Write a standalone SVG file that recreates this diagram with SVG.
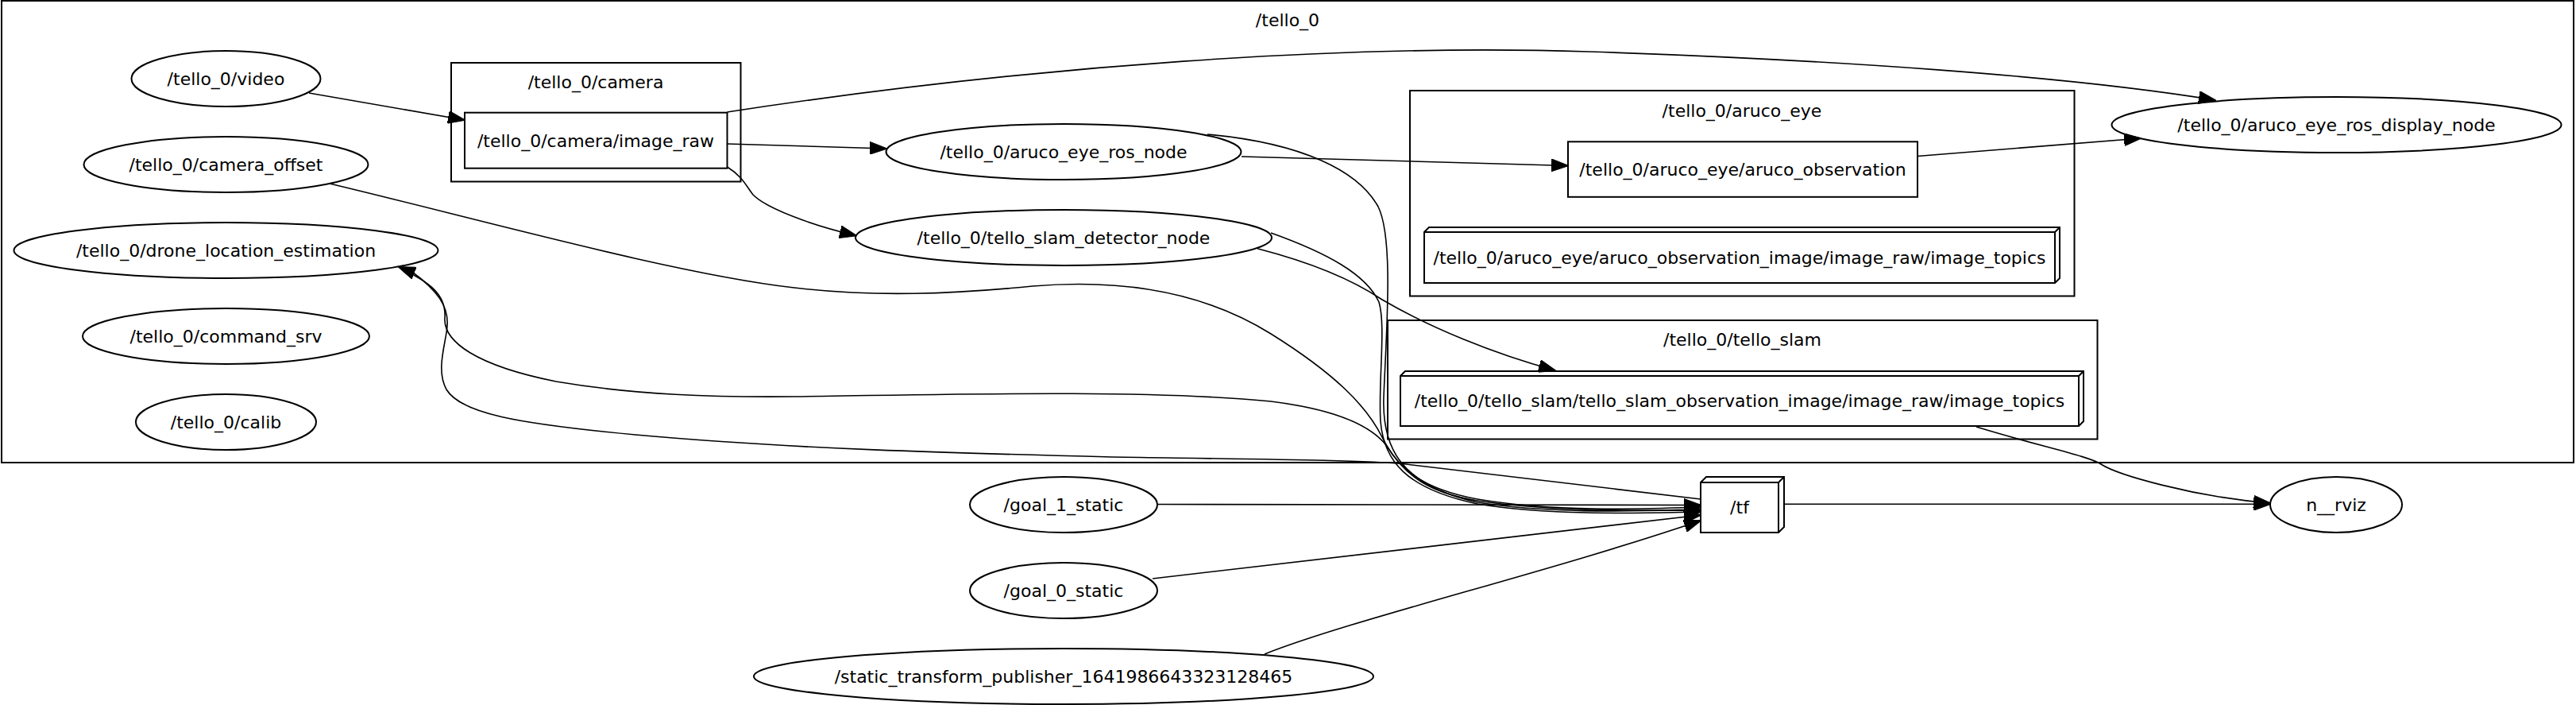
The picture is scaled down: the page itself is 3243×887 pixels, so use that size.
<svg xmlns="http://www.w3.org/2000/svg" width="3243" height="887" viewBox="0 0 3243 887">
<style>
text{font-family:"DejaVu Sans","Liberation Sans",sans-serif;font-size:22px;text-anchor:middle;fill:#000}
.cl{fill:none;stroke:#000;stroke-width:2}
.nd{fill:none;stroke:#000;stroke-width:2}
.e{fill:none;stroke:#000;stroke-width:1.6;marker-end:url(#ah)}
.t{fill:none;stroke:#000;stroke-width:1.6}
</style>
<defs>
<marker id="ah" markerUnits="userSpaceOnUse" viewBox="0 0 22 16" markerWidth="22" markerHeight="16" refX="21" refY="8" orient="auto">
<path d="M0,0 L22,8 L0,16 z" fill="#000" stroke="#000" stroke-width="1"/>
</marker>
</defs>
<rect width="3243" height="887" fill="#fff"/>
<g id="clusters">
<g id="cluster_tello_0"><rect class="cl" x="2" y="1" width="3238" height="581"/><text x="1621" y="33">/tello_0</text></g>
<g id="cluster_camera"><rect class="cl" x="568" y="79" width="364.5" height="149.5"/><text x="750" y="111">/tello_0/camera</text></g>
<g id="cluster_aruco_eye"><rect class="cl" x="1775" y="114" width="836.5" height="258.5"/><text x="2193" y="147">/tello_0/aruco_eye</text></g>
<g id="cluster_tello_slam"><rect class="cl" x="1747" y="403" width="893.5" height="149.5"/><text x="2193.5" y="435">/tello_0/tello_slam</text></g>
</g>
<g id="n_video"><ellipse class="nd" cx="284.5" cy="99" rx="119" ry="35"/><text x="284.5" y="107">/tello_0/video</text></g>
<g id="n_camera_offset"><ellipse class="nd" cx="284.5" cy="207" rx="179" ry="35"/><text x="284.5" y="215">/tello_0/camera_offset</text></g>
<g id="n_drone_location_estimation"><ellipse class="nd" cx="284.5" cy="315" rx="267" ry="35"/><text x="284.5" y="323">/tello_0/drone_location_estimation</text></g>
<g id="n_command_srv"><ellipse class="nd" cx="284.5" cy="423" rx="180.5" ry="35"/><text x="284.5" y="431">/tello_0/command_srv</text></g>
<g id="n_calib"><ellipse class="nd" cx="284.5" cy="531" rx="113.5" ry="35"/><text x="284.5" y="539">/tello_0/calib</text></g>
<g id="n_image_raw"><rect class="nd" x="585" y="141.7" width="330.5" height="70"/><text x="750" y="185">/tello_0/camera/image_raw</text></g>
<g id="n_aruco_eye_ros_node"><ellipse class="nd" cx="1339" cy="191" rx="223.5" ry="35"/><text x="1339" y="199">/tello_0/aruco_eye_ros_node</text></g>
<g id="n_tello_slam_detector_node"><ellipse class="nd" cx="1339" cy="299" rx="262" ry="35"/><text x="1339" y="307">/tello_0/tello_slam_detector_node</text></g>
<g id="n_aruco_observation"><rect class="nd" x="1974" y="178.3" width="440" height="69.5"/><text x="2194" y="221">/tello_0/aruco_eye/aruco_observation</text></g>
<g id="n_aruco_observation_image"><path class="nd" d="M1793,292 L1799,286 L2593,286 L2593,350 L2587,356 L1793,356 Z M1793,292 L2587,292 L2587,356 M2587,292 L2593,286"/><text x="2190" y="332">/tello_0/aruco_eye/aruco_observation_image/image_raw/image_topics</text></g>
<g id="n_tello_slam_observation_image"><path class="nd" d="M1763,473 L1769,467 L2623,467 L2623,530 L2617,536 L1763,536 Z M1763,473 L2617,473 L2617,536 M2617,473 L2623,467"/><text x="2190" y="512">/tello_0/tello_slam/tello_slam_observation_image/image_raw/image_topics</text></g>
<g id="n_aruco_eye_ros_display_node"><ellipse class="nd" cx="2941.5" cy="157" rx="283" ry="35"/><text x="2941.5" y="165">/tello_0/aruco_eye_ros_display_node</text></g>
<g id="n_goal_1_static"><ellipse class="nd" cx="1339" cy="635" rx="118" ry="35"/><text x="1339" y="643">/goal_1_static</text></g>
<g id="n_goal_0_static"><ellipse class="nd" cx="1339" cy="743" rx="118" ry="35"/><text x="1339" y="751">/goal_0_static</text></g>
<g id="n_static_transform_publisher"><ellipse class="nd" cx="1339" cy="851" rx="390" ry="35"/><text x="1339" y="859">/static_transform_publisher_1641986643323128465</text></g>
<g id="n_tf"><path class="nd" d="M2141,607 L2148,600 L2246,600 L2246,663 L2239,670 L2141,670 Z M2141,607 L2239,607 L2239,670 M2239,607 L2246,600"/><text x="2190" y="646">/tf</text></g>
<g id="n_rviz"><ellipse class="nd" cx="2941" cy="635" rx="83" ry="35"/><text x="2941" y="643">n__rviz</text></g>
<g id="edges">
<path class="e" d="M389,117 L585,151"/>
<path class="e" d="M915.5,181 L1116,187"/>
<path class="e" d="M915.5,210 C935,222 940,235 948,245 C965,262 1020,283 1078,296.5"/>
<path class="e" d="M915.5,141 C1300,82 1700,55 2000,65 C2300,75 2600,95 2789,126"/>
<path class="e" d="M1563,197 L1974,208.5"/>
<path class="e" d="M2414,196.5 L2695,174"/>
<path class="e" d="M1583,312.7 C1650,330 1700,350 1740,377 C1800,412 1880,445 1958,466"/>
<path class="e" d="M2488,537 C2570,562 2630,574 2645,584 C2665,597 2760,625 2858,633"/>
<path class="e" d="M2246,634.3 L2858,634.3"/>
<path class="e" d="M1520,169 C1640,180 1710,215 1735,260 C1755,300 1745,420 1742,500 C1740,560 1760,610 1860,632 C1960,648 2080,642 2141,641"/>
<path class="e" d="M1600,293 C1670,318 1720,345 1736,380 C1745,410 1735,480 1738,530 C1742,580 1770,615 1860,634 C1960,650 2080,645 2141,644"/>
<path class="e" d="M415,231 C600,275 850,345 1000,362 C1100,374 1200,370 1300,360 C1420,350 1520,370 1600,420 C1680,470 1720,510 1740,550 C1760,590 1790,615 1860,628 C1960,645 2080,640 2141,638"/>
<path class="e" d="M505,338 C540,355 562,370 560,400 C558,430 600,460 700,480 C800,497 900,500 1000,499 C1200,496 1450,490 1600,505 C1680,515 1725,535 1745,560 C1770,600 1800,620 1860,630 C1960,645 2080,642 2141,642"/>
<path class="e" d="M2141,628 L1770,584 C1720,579 1600,578 1400,575 C1200,570 1000,565 800,547 C650,533 580,520 562,490 C548,465 562,430 563,410 C565,385 550,365 520,343 L502,336"/>
<path class="e" d="M1457,634.5 L2141,635.5"/>
<path class="e" d="M1451,728 L2141,648"/>
<path class="e" d="M1592,823 C1700,780 1950,720 2141,655"/>
</g>
</svg>
